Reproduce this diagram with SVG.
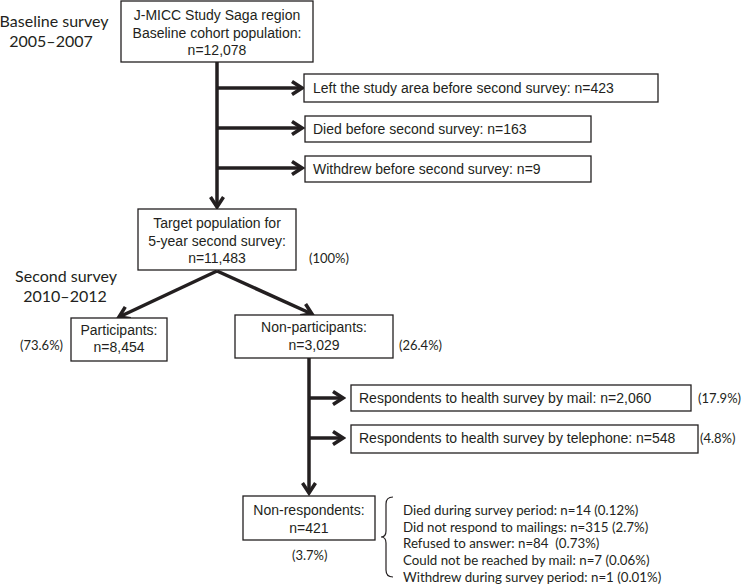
<svg xmlns="http://www.w3.org/2000/svg" width="743" height="585" viewBox="0 0 743 585">
<style>
.box{fill:#fff;stroke:#231f20;stroke-width:1.3}
.t{font-family:"Liberation Sans",Arial,sans-serif;font-size:14px;fill:#231f20}
.c{text-anchor:middle}
.l{font-family:Lato,"Open Sans",sans-serif;fill:#231f20}
.lab{font-size:16px}
.pct{font-size:13px}
.lst{font-size:13.3px}
.con{stroke:#231f20;stroke-width:3.5;fill:none}
.br{stroke:#231f20;stroke-width:1.2;fill:none}
</style>
<defs>
<marker id="ah" viewBox="0 0 16 16" markerUnits="userSpaceOnUse" markerWidth="16" markerHeight="16" refX="13" refY="8" orient="auto">
<path d="M3,1.5 L13,8 L3,14.5" fill="none" stroke="#231f20" stroke-width="3.5" stroke-linejoin="miter" stroke-miterlimit="3"/>
</marker>
</defs>
<g id="labels">
<text class="l lab c" x="54" y="27">Baseline survey</text>
<text class="l lab c" x="51" y="47">2005–2007</text>
<text class="l lab c" x="66" y="282">Second survey</text>
<text class="l lab c" x="65" y="302">2010–2012</text>
</g>
<g id="connectors">
<line class="con" x1="217" y1="62" x2="217" y2="207" marker-end="url(#ah)"/>
<line class="con" x1="217" y1="88" x2="302" y2="88" marker-end="url(#ah)"/>
<line class="con" x1="217" y1="128" x2="302" y2="128" marker-end="url(#ah)"/>
<line class="con" x1="217" y1="168" x2="302" y2="168" marker-end="url(#ah)"/>
<line class="con" x1="217" y1="271" x2="119" y2="317" marker-end="url(#ah)"/>
<line class="con" x1="217" y1="271" x2="312" y2="314" marker-end="url(#ah)"/>
<line class="con" x1="309" y1="358" x2="309" y2="493" marker-end="url(#ah)"/>
<line class="con" x1="309" y1="398" x2="343" y2="398" marker-end="url(#ah)"/>
<line class="con" x1="309" y1="438" x2="343" y2="438" marker-end="url(#ah)"/>
</g>
<g id="n-baseline">
<rect class="box" x="121" y="1" width="192" height="61"/>
<text class="t c" x="217" y="20">J-MICC Study Saga region</text>
<text class="t c" x="217" y="38">Baseline cohort population:</text>
<text class="t c" x="217" y="55">n=12,078</text>
</g>
<g id="n-left">
<rect class="box" x="304" y="74" width="354" height="28"/>
<text class="t" x="313" y="93">Left the study area before second survey: n=423</text>
</g>
<g id="n-died">
<rect class="box" x="305" y="116" width="286" height="26"/>
<text class="t" x="313" y="134">Died before second survey: n=163</text>
</g>
<g id="n-withdrew">
<rect class="box" x="305" y="156" width="286" height="26"/>
<text class="t" x="313" y="174">Withdrew before second survey: n=9</text>
</g>
<g id="n-target">
<rect class="box" x="138" y="209" width="158" height="61"/>
<text class="t c" x="217" y="228">Target population for</text>
<text class="t c" x="217" y="246">5-year second survey:</text>
<text class="t c" x="217" y="263">n=11,483</text>
<text class="l pct" x="309" y="263">(100%)</text>
</g>
<g id="n-participants">
<rect class="box" x="71" y="318" width="96" height="43"/>
<text class="t c" x="119" y="335">Participants:</text>
<text class="t c" x="119" y="352">n=8,454</text>
<text class="l pct" x="20" y="350">(73.6%)</text>
</g>
<g id="n-nonparticipants">
<rect class="box" x="235" y="315" width="158" height="43"/>
<text class="t c" x="314" y="332">Non-participants:</text>
<text class="t c" x="314" y="350">n=3,029</text>
<text class="l pct" x="399" y="350">(26.4%)</text>
</g>
<g id="n-mail">
<rect class="box" x="351" y="385" width="340" height="26"/>
<text class="t" x="359" y="403">Respondents to health survey by mail: n=2,060</text>
<text class="l pct" x="698" y="403">(17.9%)</text>
</g>
<g id="n-phone">
<rect class="box" x="351" y="425" width="347" height="28"/>
<text class="t" x="359" y="443">Respondents to health survey by telephone: n=548</text>
<text class="l pct" x="700" y="443">(4.8%)</text>
</g>
<g id="n-nonrespondents">
<rect class="box" x="243" y="496" width="132" height="44"/>
<text class="t c" x="309" y="515">Non-respondents:</text>
<text class="t c" x="309" y="533">n=421</text>
<text class="l pct" x="292" y="560">(3.7%)</text>
</g>
<g id="n-reasons">
<path class="br" d="M393,497 Q386,497 386,504 L386,531 Q386,537 381,537 Q386,537 386,543 L386,570 Q386,577 393,577"/>
<text class="l lst" x="403" y="515">Died during survey period: n=14 (0.12%)</text>
<text class="l lst" x="403" y="532">Did not respond to mailings: n=315 (2.7%)</text>
<text class="l lst" x="403" y="548">Refused to answer: n=84 &#160;(0.73%)</text>
<text class="l lst" x="403" y="565">Could not be reached by mail: n=7 (0.06%)</text>
<text class="l lst" x="403" y="582">Withdrew during survey period: n=1 (0.01%)</text>
</g>
</svg>
